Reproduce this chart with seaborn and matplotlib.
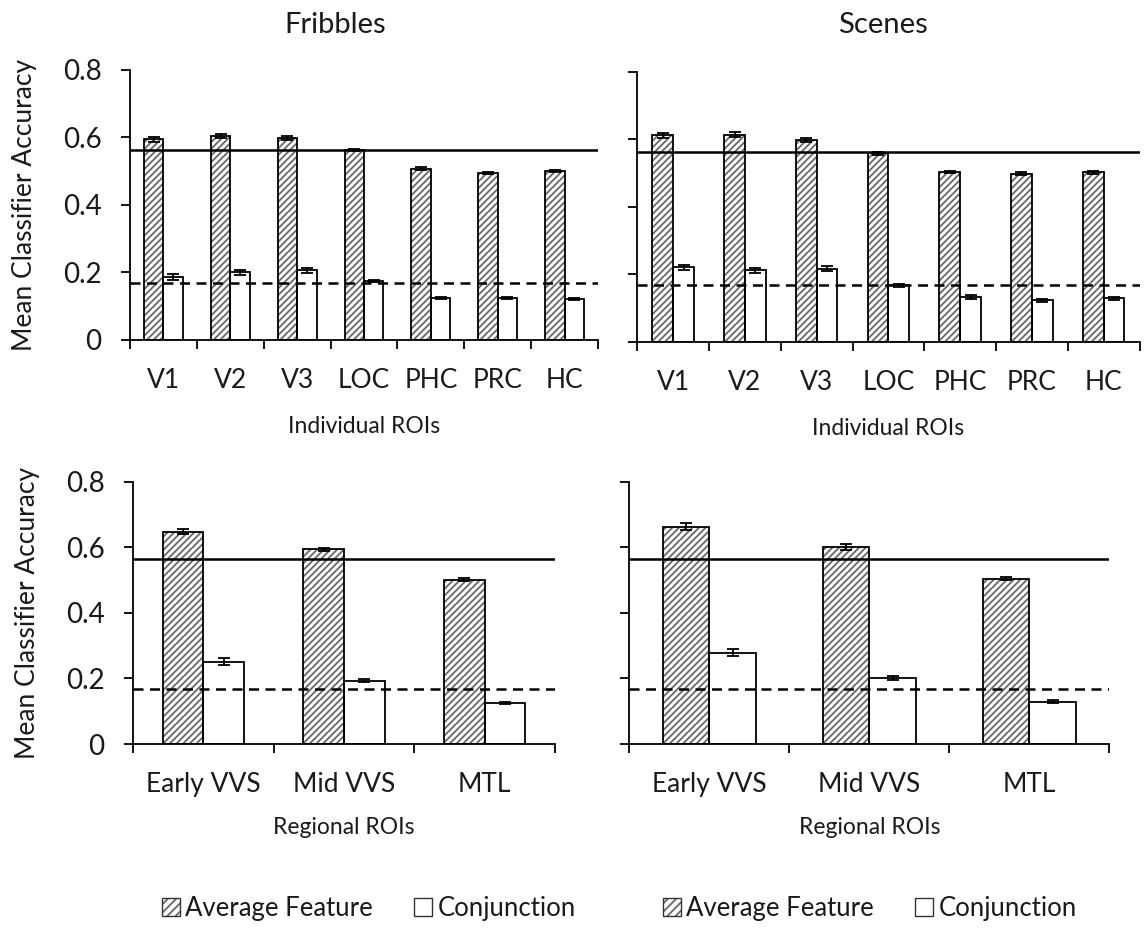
import matplotlib
matplotlib.use('Agg')
import matplotlib.pyplot as plt
import matplotlib.patches as mpatches
from matplotlib.legend_handler import HandlerTuple
import seaborn as sns
import pandas as pd
import numpy as np

# ---------------- data ----------------
individual_rois = ['V1', 'V2', 'V3', 'LOC', 'PHC', 'PRC', 'HC']
regional_rois = ['Early VVS', 'Mid VVS', 'MTL']
conditions = ['Average Feature', 'Conjunction']

fribbles_ind_feature = [0.594, 0.604, 0.597, 0.562, 0.507, 0.493, 0.499]
fribbles_ind_feature_se = [0.007, 0.007, 0.006, 0.004, 0.004, 0.003, 0.003]
fribbles_ind_conj = [0.187, 0.200, 0.206, 0.174, 0.124, 0.124, 0.121]
fribbles_ind_conj_se = [0.008, 0.007, 0.008, 0.003, 0.003, 0.003, 0.003]

scenes_ind_feature = [0.612, 0.614, 0.598, 0.558, 0.503, 0.498, 0.502]
scenes_ind_feature_se = [0.007, 0.008, 0.007, 0.005, 0.004, 0.004, 0.005]
scenes_ind_conj = [0.221, 0.212, 0.217, 0.168, 0.133, 0.123, 0.129]
scenes_ind_conj_se = [0.008, 0.008, 0.008, 0.005, 0.005, 0.004, 0.004]

fribbles_reg_feature = [0.647, 0.594, 0.501]
fribbles_reg_feature_se = [0.008, 0.005, 0.005]
fribbles_reg_conj = [0.251, 0.193, 0.125]
fribbles_reg_conj_se = [0.011, 0.005, 0.004]

scenes_reg_feature = [0.663, 0.600, 0.504]
scenes_reg_feature_se = [0.010, 0.009, 0.005]
scenes_reg_conj = [0.278, 0.200, 0.129]
scenes_reg_conj_se = [0.011, 0.006, 0.004]

solid_line = [0.563, 0.562, 0.563, 0.563]   # TL, TR, BL, BR
dashed_line = [0.169, 0.168, 0.168, 0.168]

yticks = [0, 0.2, 0.4, 0.6, 0.8]
ytick_labels = ['0', '0.2', '0.4', '0.6', '0.8']
panel_titles = ['Fribbles', 'Scenes']
xlabels = ['Individual ROIs', 'Regional ROIs']
ylabel = 'Mean Classifier Accuracy'

# ---------------- style ----------------
sns.set_theme(style='ticks')
plt.rcParams['font.family'] = ['Lato', 'DejaVu Sans']
plt.rcParams['hatch.linewidth'] = 1.3
HATCH_COLOR = '#666666'
HATCH = '/////'
LW = 1.3
TXT = '#1a1a1a'
XTICK_FS = 19
YTICK_FS = 20
YLAB_FS = 19
XLAB_FS = 16.5
TITLE_FS = 21
LEG_FS = 18.5

W, H = 1144, 930
fig = plt.figure(figsize=(W / 100, H / 100), dpi=100)


def px_axes(left, right, top, bottom):
    return fig.add_axes([left / W, 1 - bottom / H, (right - left) / W, (bottom - top) / H])


def draw_panel(ax, rois, feat, feat_se, conj, conj_se, solid, dashed, show_ylab, xlabel, xlab_off):
    n = len(rois)
    df = pd.DataFrame({
        'ROI': rois + rois,
        'Condition': [conditions[0]] * n + [conditions[1]] * n,
        'Accuracy': list(feat) + list(conj),
    })
    sns.barplot(data=df, x='ROI', y='Accuracy', hue='Condition', order=rois,
                hue_order=conditions, palette=['white', 'white'], saturation=1,
                width=0.58, errorbar=None, legend=False, ax=ax, zorder=2)
    for bar in ax.containers[0]:
        bar.set_hatch(HATCH)
        bar.set_edgecolor(HATCH_COLOR)
        bar.set_linewidth(0)
    for bar in ax.containers[1]:
        bar.set_linewidth(0)
    sns.barplot(data=df, x='ROI', y='Accuracy', hue='Condition', order=rois,
                hue_order=conditions, palette=['black', 'black'], fill=False,
                width=0.58, errorbar=None, legend=False, ax=ax, linewidth=LW, zorder=3)
    # error bars
    for cont, ses in ((ax.containers[0], feat_se), (ax.containers[1], conj_se)):
        for bar, s in zip(cont, ses):
            x = bar.get_x() + bar.get_width() / 2
            ax.errorbar(x, bar.get_height(), yerr=s, color='black', lw=LW,
                        capsize=4.5, capthick=LW, zorder=4)
    ax.axhline(solid, color='black', lw=1.8, zorder=5)
    ax.axhline(dashed, color='black', lw=1.8, ls=(0, (4, 2.6)), zorder=5)

    ax.set_xlim(-0.5, n - 0.5)
    ax.set_ylim(0, 0.8)
    ax.set_yticks(yticks)
    if show_ylab:
        ax.set_yticklabels(ytick_labels)
        ax.set_ylabel(ylabel, fontsize=YLAB_FS, color=TXT)
        ax.yaxis.set_label_coords(-0.226 if n == 7 else -0.25, 0.5)
        ax.yaxis.label.set_va('center')
    else:
        ax.set_yticklabels([])
        ax.set_ylabel('')
    ax.set_xticks(range(n))
    ax.set_xticklabels(rois)
    ax.set_xticks(np.arange(n + 1) - 0.5, minor=True)
    ax.tick_params(axis='x', which='major', length=0, pad=20, labelsize=XTICK_FS, labelcolor=TXT)
    ax.tick_params(axis='x', which='minor', length=6.5, width=LW, direction='out', color='black')
    ax.tick_params(axis='y', which='major', length=6.5, width=LW, direction='out',
                   labelsize=YTICK_FS, labelcolor=TXT, pad=14, color='black')
    ax.set_xlabel(xlabel, fontsize=XLAB_FS, color=TXT)
    ax.xaxis.set_label_coords(0.5, xlab_off)
    ax.xaxis.label.set_va('center')
    for side in ('top', 'right'):
        ax.spines[side].set_visible(False)
    for side in ('left', 'bottom'):
        ax.spines[side].set_linewidth(LW)
        ax.spines[side].set_color('black')
    ax.set_facecolor('white')


ax_tl = px_axes(130, 598, 69.7, 340)
ax_tr = px_axes(637.3, 1139.5, 71.7, 342)
ax_bl = px_axes(133, 555, 481.7, 744)
ax_br = px_axes(629.3, 1109.3, 481.7, 744)

draw_panel(ax_tl, individual_rois, fribbles_ind_feature, fribbles_ind_feature_se,
           fribbles_ind_conj, fribbles_ind_conj_se, solid_line[0], dashed_line[0],
           True, xlabels[0], -0.32)
draw_panel(ax_tr, individual_rois, scenes_ind_feature, scenes_ind_feature_se,
           scenes_ind_conj, scenes_ind_conj_se, solid_line[1], dashed_line[1],
           False, xlabels[0], -0.32)
draw_panel(ax_bl, regional_rois, fribbles_reg_feature, fribbles_reg_feature_se,
           fribbles_reg_conj, fribbles_reg_conj_se, solid_line[2], dashed_line[2],
           True, xlabels[1], -0.32)
draw_panel(ax_br, regional_rois, scenes_reg_feature, scenes_reg_feature_se,
           scenes_reg_conj, scenes_reg_conj_se, solid_line[3], dashed_line[3],
           False, xlabels[1], -0.32)

fig.text(335 / W, 1 - 25 / H, panel_titles[0], ha='center', va='center', fontsize=TITLE_FS, color=TXT)
fig.text(883 / W, 1 - 25 / H, panel_titles[1], ha='center', va='center', fontsize=TITLE_FS, color=TXT)

# legends
def legend_handles():
    hatched = mpatches.Patch(facecolor='white', edgecolor=HATCH_COLOR, hatch='////', linewidth=0)
    outline = mpatches.Patch(facecolor='none', edgecolor='#333333', linewidth=1.0)
    white = mpatches.Patch(facecolor='white', edgecolor='#333333', linewidth=1.0)
    return [(hatched, outline), white]

for cx in (369, 870):
    fig.legend(legend_handles(), conditions, loc='center', bbox_to_anchor=(cx / W, 1 - 908 / H),
               ncol=2, frameon=False, fontsize=LEG_FS, handlelength=0.7, handleheight=0.7,
               handletextpad=0.2, columnspacing=1.6, labelcolor=TXT,
               handler_map={tuple: HandlerTuple(ndivide=1)})

fig.savefig('out.png', dpi=100, facecolor='white')
